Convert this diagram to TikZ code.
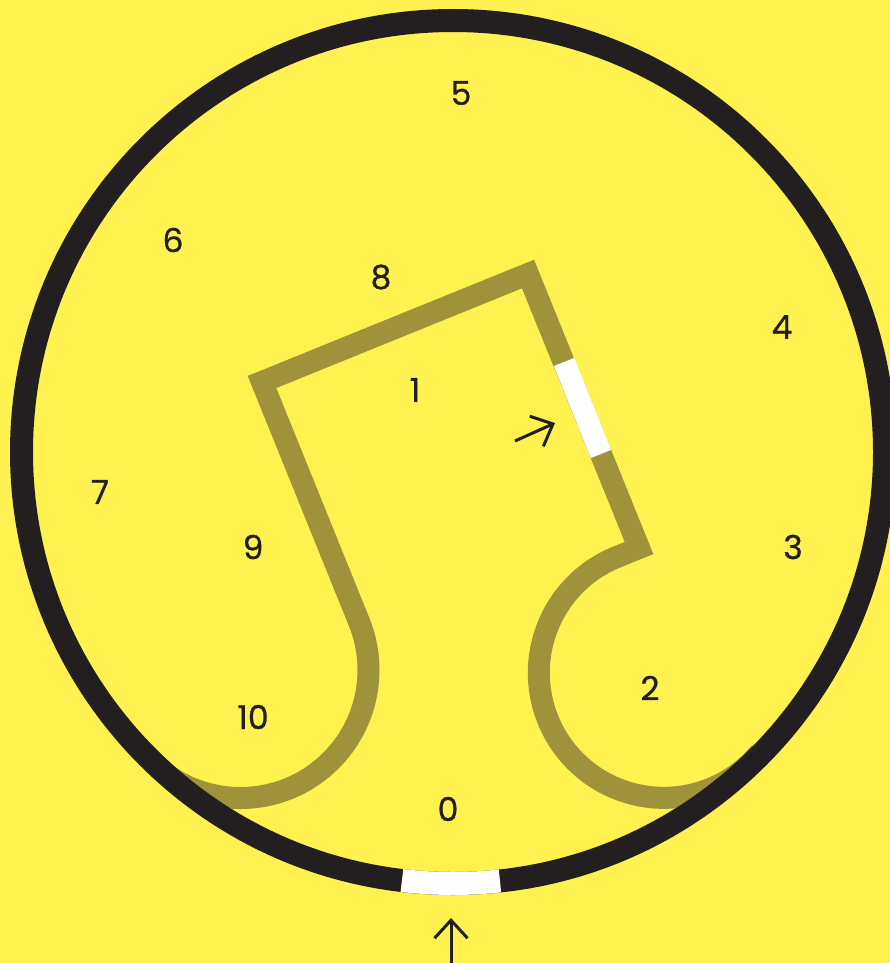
\documentclass[tikz,border=0pt]{standalone}
\usepackage{fontspec}
\setmainfont{Poppins}
\newfontfamily\numfont{Poppins}[FakeBold=0.7]
\usetikzlibrary{arrows.meta}
\definecolor{bg}{HTML}{FFF250}
\definecolor{ring}{HTML}{231F20}
\definecolor{olivetrack}{HTML}{9E933A}
\begin{document}
\begin{tikzpicture}[x=1pt,y=-1pt,
  num/.style={font=\numfont\fontsize{33}{33}\selectfont, text=ring, inner sep=0pt},
  track/.style={olivetrack, line width=22pt, line join=miter},
  gapline/.style={white, line width=22pt},
  ringline/.style={ring, line width=23pt},
  flow/.style={ring, line width=3pt, -{Straight Barb[length=18pt,width=33pt,line width=3pt]}}]
\fill[bg] (0,0) rectangle (890,963);
\useasboundingbox (0,0) rectangle (890,963);
\coordinate (ctr) at (453,452);
\coordinate (cL) at (240.5,670);
\coordinate (tl) at (262,382);
\coordinate (tr) at (528,274);
\coordinate (br) at (639,548);
\coordinate (t2) at (616.8,557);
\coordinate (w1) at (564,362);
\coordinate (w2) at (601,454);
\begin{scope}
  \clip (ctr) circle[radius=431.5];
  \draw[track] (cL) ++(140:128) arc[start angle=140, end angle=-22.1, radius=128]
     -- (tl) -- (tr) -- (br) -- (t2)
     arc[start angle=-112.1, end angle=-320, radius=125];
\end{scope}
\draw[gapline] (w1) -- (w2);
\draw[ringline] (ctr) circle[radius=431.5];
\draw[ringline, white] (ctr) ++(83.75:431.5) arc[start angle=83.75, end angle=96.8, radius=431.5];
% arrows
\coordinate (a1s) at (451,963);
\coordinate (a1e) at (451,918);
\draw[flow] (a1s) -- (a1e);
\coordinate (a2s) at (515,441);
\coordinate (a2e) at (555,423);
\draw[flow] (a2s) -- (a2e);
% numbers
\node[num] (n5) at (461,93) {5};
\node[num] (n6) at (173,240) {6};
\node[num] (n8) at (381,277) {8};
\node[num] (n4) at (782,327) {4};
\node[num] (n1) at (415,390) {1};
\node[num] (n7) at (100,492) {7};
\node[num] (n9) at (253,547) {9};
\node[num] (n3) at (793,547) {3};
\node[num] (n2) at (650,688) {2};
\node[num] (n10) at (253,717) {10};
\node[num] (n0) at (448,809) {0};
\end{tikzpicture}
\end{document}
